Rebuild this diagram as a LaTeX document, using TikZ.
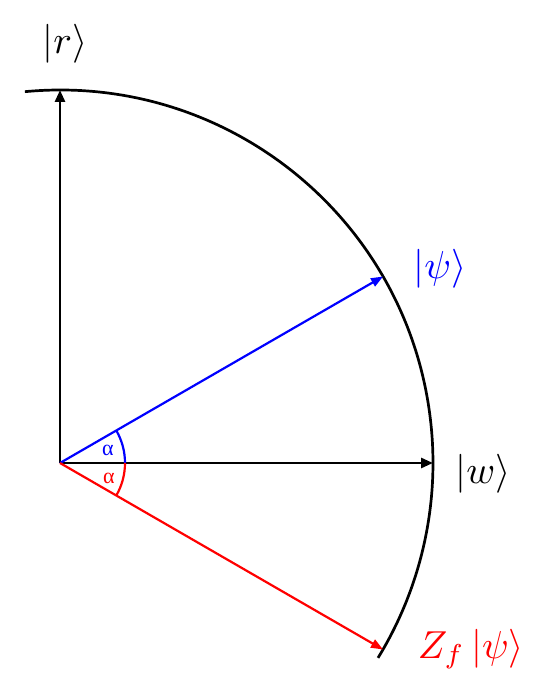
\documentclass[tikz,border=0pt]{standalone}
\usepackage{fontspec}
\newfontfamily\grk{Liberation Serif}
\usetikzlibrary{arrows.meta}
\newcommand{\bigmath}[1]{\scalebox{3.9}{$#1$}}
\begin{document}
\begin{tikzpicture}[x=1pt,y=1pt,
  vec/.style={line width=2.7pt,-{Triangle[length=12pt,width=10pt]}},
  cvec/.style={line width=2.2pt,-{Triangle[length=12pt,width=9pt]}},
  anglearc/.style={line width=2.2pt},
  lab/.style={inner sep=0pt},
  alab/.style={font=\grk\fontsize{22}{24}\selectfont, inner sep=0pt}]
\useasboundingbox (0,0) rectangle (550,693);
\coordinate (O) at (60,230);
\path (O) ++(90:373) coordinate (rt);
\path (O) ++(0:373) coordinate (wt);
\path (O) ++(30:373) coordinate (pt);
\path (O) ++(-30:373) coordinate (zt);
% big arc
\draw[line width=2.7pt] (O) ++(95.4:373) arc[start angle=95.4, end angle=-31.5, radius=373];
% vectors
\draw[vec] (O) -- (rt);
\draw[vec] (O) -- (wt);
\draw[cvec, blue] (O) -- (pt);
\draw[cvec, red] (O) -- (zt);
% angle arcs
\draw[anglearc, blue] (O) ++(0:65) arc[start angle=0, end angle=30, radius=65];
\draw[anglearc, red] (O) ++(0:65) arc[start angle=0, end angle=-30, radius=65];
% labels
\node[lab] (lr) at (65,649) {\bigmath{|r\rangle}};
\node[lab, blue] (lp) at (440,424) {\bigmath{|\psi\rangle}};
\node[lab] (lw) at (483,219) {\bigmath{|w\rangle}};
\node[lab, red] (lz) at (471,44) {\bigmath{Z_f\,|\psi\rangle}};
\node[alab, blue] (a1) at (108,243) {α};
\node[alab, red] (a2) at (109,215) {α};
\end{tikzpicture}
\end{document}
